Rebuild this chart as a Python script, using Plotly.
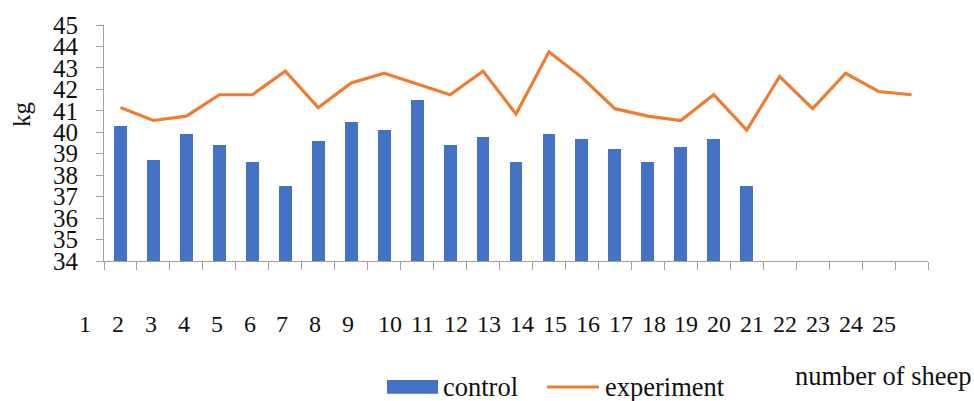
import plotly.graph_objects as go

# Live weight per animal, kg
sheep_numbers = list(range(1, 26))
control = [40.3, 38.7, 39.9, 39.4, 38.6, 37.5, 39.6, 40.5, 40.1, 41.5,
           39.4, 39.8, 38.6, 39.9, 39.7, 39.2, 38.6, 39.3, 39.7, 37.5]
experiment = [41.15, 40.55, 40.75, 41.75, 41.75, 42.85, 41.15, 42.3, 42.75, 42.25,
              41.75, 42.85, 40.85, 43.75, 42.55, 41.1, 40.75, 40.55, 41.75, 40.1,
              42.6, 41.1, 42.75, 41.9, 41.75]
y_ticks = list(range(34, 46))

SERIF = "'Times New Roman', 'Liberation Serif', Tinos, 'DejaVu Serif', serif"
BLUE = "#4472C4"
ORANGE = "#ED7D31"
AXIS_GREY = "#A0A0A0"
TEXT = "#111111"

# plot-area geometry in pixels
PLOT_LEFT, PLOT_WIDTH = 104, 824
PLOT_BOTTOM, PLOT_HEIGHT = 260, 238


def px_x(x):
    return (x - PLOT_LEFT) / PLOT_WIDTH


def px_y(y):
    return (PLOT_BOTTOM - y) / PLOT_HEIGHT


x_control = list(range(1, len(control) + 1))
x_experiment = list(range(1, len(experiment) + 1))
n_slots = len(sheep_numbers)
slot_px = PLOT_WIDTH / n_slots

fig = go.Figure()

fig.add_trace(go.Bar(
    x=x_control, y=control, name="control",
    marker=dict(color=BLUE, line=dict(width=0)),
    width=0.39, base=0,
))

fig.add_trace(go.Scatter(
    x=x_experiment, y=experiment, name="experiment",
    mode="lines", line=dict(color=ORANGE, width=3.2),
))

fig.update_layout(
    width=974, height=401,
    margin=dict(l=PLOT_LEFT, r=974 - PLOT_LEFT - PLOT_WIDTH, t=22,
                b=401 - PLOT_BOTTOM - 1 + 0),
    paper_bgcolor="white", plot_bgcolor="white",
    showlegend=False, bargap=0,
    font=dict(family=SERIF, size=24, color=TEXT),
    hovermode=False,
)

fig.update_xaxes(
    range=[0.5, n_slots + 0.5],
    tickmode="array", tickvals=[i + 0.5 for i in range(0, n_slots + 1)],
    showticklabels=False, ticks="outside", ticklen=8, tickwidth=1,
    tickcolor=AXIS_GREY, showline=True, linecolor=AXIS_GREY, linewidth=1.2,
    showgrid=False, zeroline=False,
)

fig.update_yaxes(
    range=[34, 45], tickmode="array", tickvals=y_ticks,
    ticks="outside", ticklen=7, tickwidth=1, tickcolor=AXIS_GREY,
    showline=True, linecolor=AXIS_GREY, linewidth=1.2,
    showgrid=False, zeroline=False, ticklabelstandoff=13,
    tickfont=dict(family=SERIF, size=25, color=TEXT),
)

# Sheep numbers written as a row of left-aligned labels under the axis
for n in sheep_numbers:
    left = 76.7 + slot_px * (n - 1) + (2.5 if n >= 10 else 0)
    fig.add_annotation(text=str(n), xref="paper", yref="paper",
                       x=px_x(left), y=px_y(324), showarrow=False,
                       font=dict(family=SERIF, size=24, color=TEXT),
                       xanchor="left", yanchor="middle")

# Axis titles
fig.add_annotation(text="kg", xref="paper", yref="paper",
                   x=px_x(21.7), y=px_y(112), textangle=-90, showarrow=False,
                   font=dict(family=SERIF, size=25, color=TEXT),
                   xanchor="center", yanchor="middle")
fig.add_annotation(text="number of sheep", xref="paper", yref="paper",
                   x=px_x(974), y=px_y(376), showarrow=False,
                   font=dict(family=SERIF, size=26.5, color=TEXT),
                   xanchor="right", yanchor="middle")

# Legend drawn below the plot
fig.add_shape(type="rect", xref="paper", yref="paper",
              x0=px_x(387), x1=px_x(438), y0=px_y(394), y1=px_y(380),
              fillcolor=BLUE, line=dict(width=0))
fig.add_annotation(text="control", xref="paper", yref="paper",
                   x=px_x(441), y=px_y(387), showarrow=False,
                   font=dict(family=SERIF, size=26.5, color=TEXT),
                   xanchor="left", yanchor="middle")
fig.add_shape(type="line", xref="paper", yref="paper",
              x0=px_x(547), x1=px_x(599), y0=px_y(387), y1=px_y(387),
              line=dict(color=ORANGE, width=3))
fig.add_annotation(text="experiment", xref="paper", yref="paper",
                   x=px_x(603), y=px_y(387), showarrow=False,
                   font=dict(family=SERIF, size=26.5, color=TEXT),
                   xanchor="left", yanchor="middle")

fig.write_html("out.html")
